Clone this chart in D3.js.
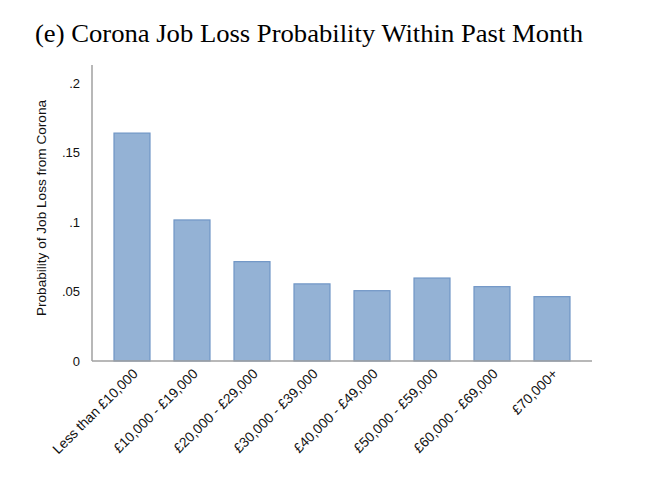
<!DOCTYPE html>
<html>
<head>
<meta charset="utf-8">
<script src="https://cdn.jsdelivr.net/npm/d3@7"></script>
<style>
body { margin: 0; background: #fff; }
svg { display: block; }
</style>
</head>
<body>
<svg id="chart" width="670" height="498"></svg>
<script>
const categories = ["Less than £10,000", "£10,000 - £19,000", "£20,000 - £29,000", "£30,000 - £39,000",
  "£40,000 - £49,000", "£50,000 - £59,000", "£60,000 - £69,000", "£70,000+"];
const values = [0.164, 0.1015, 0.0715, 0.0555, 0.0506, 0.0597, 0.0535, 0.0463];
const yTicks = [0, 0.05, 0.1, 0.15, 0.2];
const yTickLabels = ["0", ".05", ".1", ".15", ".2"];
const titleText = "(e) Corona Job Loss Probability Within Past Month";
const yLabel = "Probability of Job Loss from Corona";

const svg = d3.select("#chart");
const mLeft = 92, mRight = 592, mTop = 65, mBottom = 361;

const x = d3.scaleBand().domain(categories).range([mLeft, mRight]).paddingInner(0.4).paddingOuter(0.3667);
const y = d3.scaleLinear().domain([0, 0.213]).range([mBottom, mTop]);

svg.append("text")
  .attr("x", 35).attr("y", 42)
  .attr("font-family", "'Liberation Serif', 'DejaVu Serif', serif")
  .attr("font-size", 25)
  .attr("textLength", 548)
  .attr("lengthAdjust", "spacingAndGlyphs")
  .attr("fill", "#000")
  .text(titleText);

// bars
svg.append("g").selectAll("rect").data(values).join("rect")
  .attr("x", (d, i) => x(categories[i]))
  .attr("width", x.bandwidth())
  .attr("y", d => y(d))
  .attr("height", d => y(0) - y(d))
  .attr("fill", "#94b2d5")
  .attr("stroke", "#7096c6")
  .attr("stroke-width", 1.2);

// y axis
const yAxis = d3.axisLeft(y).tickValues(yTicks).tickFormat((d, i) => yTickLabels[i]).tickSize(0).tickPadding(12);
const gy = svg.append("g").attr("transform", `translate(${mLeft},0)`).call(yAxis);
gy.select(".domain").attr("stroke", "#a0a0a0").attr("stroke-width", 1.5).attr("d", `M0,${mTop}V${mBottom}`);
gy.selectAll("text").attr("font-family", "'Liberation Sans', Arial, sans-serif").attr("font-size", 13).attr("fill", "#111");

// x axis
const xAxis = d3.axisBottom(x).tickSize(0).tickPadding(0);
const gx = svg.append("g").attr("transform", `translate(0,${mBottom})`).call(xAxis);
gx.select(".domain").attr("stroke", "#a0a0a0").attr("stroke-width", 1.5).attr("d", `M${mLeft},0H${mRight}`);
gx.selectAll("text")
  .attr("font-family", "'Liberation Sans', Arial, sans-serif").attr("font-size", 13.8).attr("fill", "#111")
  .attr("text-anchor", "end")
  .attr("dy", null).attr("y", null)
  .attr("transform", "translate(4,11) rotate(-45)")
  .attr("dominant-baseline", "middle");

// y label
svg.append("text")
  .attr("transform", `translate(42,${(mTop + mBottom) / 2 - 5}) rotate(-90)`)
  .attr("text-anchor", "middle")
  .attr("dominant-baseline", "middle")
  .attr("font-family", "'Liberation Sans', Arial, sans-serif")
  .attr("font-size", 13.6)
  .attr("fill", "#111")
  .text(yLabel);
</script>
</body>
</html>
